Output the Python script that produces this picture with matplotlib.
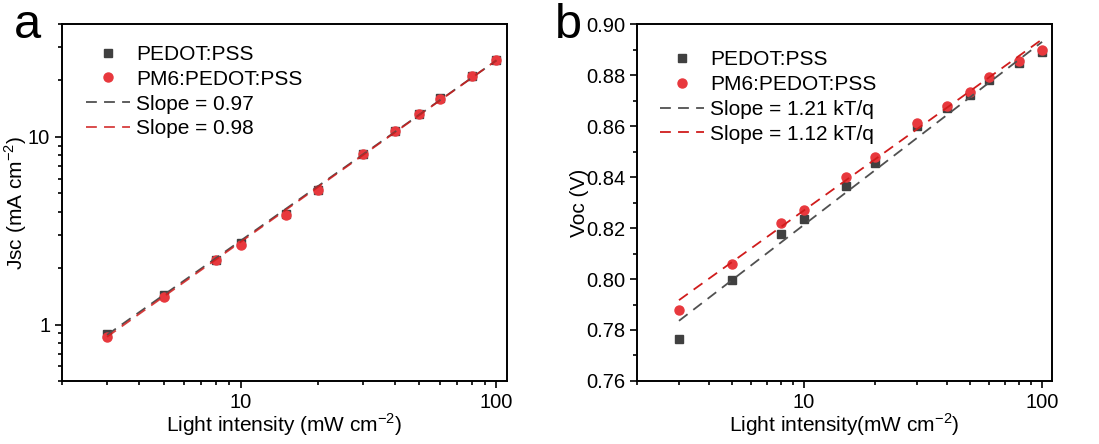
import numpy as np
import matplotlib
matplotlib.use('Agg')
import matplotlib.pyplot as plt
from matplotlib.ticker import LogLocator, NullFormatter, MultipleLocator, FormatStrFormatter

plt.rcParams['font.family'] = ['Liberation Sans', 'DejaVu Sans']
plt.rcParams['mathtext.fontset'] = 'custom'
plt.rcParams['mathtext.rm'] = 'Liberation Sans'

# light intensity (mW cm-2)
intensity = [3, 5, 8, 10, 15, 20, 30, 40, 50, 60, 80, 100]

# panel a: Jsc (mA cm-2)
jsc_pedot = [0.895, 1.43, 2.21, 2.73, 3.87, 5.23, 8.15, 10.8, 13.2, 16.1, 21.2, 25.7]
jsc_pm6 = [0.855, 1.40, 2.20, 2.65, 3.85, 5.22, 8.12, 10.8, 13.2, 16.0, 21.1, 25.6]

# panel b: Voc (V)
voc_pedot = [0.7766, 0.7995, 0.8175, 0.8237, 0.8364, 0.8453, 0.8601, 0.8669, 0.8721, 0.8780, 0.8848, 0.8891]
voc_pm6 = [0.7878, 0.8058, 0.8220, 0.8271, 0.8400, 0.8478, 0.8613, 0.8678, 0.8734, 0.8793, 0.8855, 0.8898]

# fitted lines, end points
fit_x = [3, 100]
jsc_fit_pedot = [0.88, 25.6]
jsc_fit_pm6 = [0.86, 25.6]
voc_fit_pedot = [0.7836, 0.8930]
voc_fit_pm6 = [0.7917, 0.8940]

black = '#404040'
red = '#e8383d'
black_line = '#505050'
red_line = '#d01c1c'

fig = plt.figure(figsize=(10.99, 4.44), dpi=100)
ax1 = fig.add_axes([0.0564, 0.1419, 0.4049, 0.804])
ax2 = fig.add_axes([0.5796, 0.1419, 0.3776, 0.804])

fs = 15


def style(ax):
    for s in ax.spines.values():
        s.set_linewidth(1.4)
    ax.tick_params(which='both', direction='out', top=False, right=False,
                   labelsize=14.5, width=1.2, colors='black')
    ax.tick_params(which='major', length=5)
    ax.tick_params(which='minor', length=3)


def legend(ax, labels, x, y):
    ax.legend(labels, loc='upper left', bbox_to_anchor=(x, y), frameon=False,
              fontsize=fs, labelspacing=0.28, handlelength=2.1,
              handletextpad=0.3, borderaxespad=0)


# panel a
ax1.plot(intensity, jsc_pedot, 's', color=black, ms=6, ls='none')
ax1.plot(intensity, jsc_pm6, 'o', color=red, ms=6.5, ls='none')
ax1.plot(fit_x, jsc_fit_pedot, color=black_line, lw=1.3, dashes=(6, 4))
ax1.plot(fit_x, jsc_fit_pm6, color=red_line, lw=1.3, dashes=(6, 4), alpha=0.85)
ax1.set_xscale('log')
ax1.set_yscale('log')
ax1.set_xlim(2, 110)
ax1.set_ylim(0.5, 40)
ax1.xaxis.set_major_locator(LogLocator(base=10, numticks=10))
ax1.xaxis.set_minor_locator(LogLocator(base=10, subs=np.arange(2, 10), numticks=10))
ax1.xaxis.set_minor_formatter(NullFormatter())
ax1.yaxis.set_minor_formatter(NullFormatter())
ax1.xaxis.set_major_formatter(FormatStrFormatter('%g'))
ax1.yaxis.set_major_formatter(FormatStrFormatter('%g'))
ax1.set_xlabel('Light intensity (mW cm$^{\\mathrm{-2}}$)', fontsize=fs, labelpad=0)
ax1.set_ylabel('Jsc (mA cm$^{\\mathrm{-2}}$)', fontsize=fs, labelpad=-1)
style(ax1)
legend(ax1, ['PEDOT:PSS', 'PM6:PEDOT:PSS', 'Slope = 0.97', 'Slope = 0.98'], 0.035, 0.965)
fig.text(0.013, 0.915, 'a', fontsize=35)

# panel b
ax2.plot(intensity, voc_pedot, 's', color=black, ms=6, ls='none')
ax2.plot(intensity, voc_pm6, 'o', color=red, ms=6.5, ls='none')
ax2.plot(fit_x, voc_fit_pedot, color=black_line, lw=1.3, dashes=(6, 4))
ax2.plot(fit_x, voc_fit_pm6, color=red_line, lw=1.3, dashes=(6, 4))
ax2.set_xscale('log')
ax2.set_xlim(2, 110)
ax2.set_ylim(0.76, 0.90)
ax2.xaxis.set_major_locator(LogLocator(base=10, numticks=10))
ax2.xaxis.set_minor_locator(LogLocator(base=10, subs=np.arange(2, 10), numticks=10))
ax2.xaxis.set_minor_formatter(NullFormatter())
ax2.xaxis.set_major_formatter(FormatStrFormatter('%g'))
ax2.yaxis.set_major_locator(MultipleLocator(0.02))
ax2.yaxis.set_minor_locator(MultipleLocator(0.01))
ax2.yaxis.set_major_formatter(FormatStrFormatter('%.2f'))
ax2.set_xlabel('Light intensity(mW cm$^{\\mathrm{-2}}$)', fontsize=fs, labelpad=0)
ax2.set_ylabel('Voc (V)', fontsize=fs, labelpad=-2)
style(ax2)
legend(ax2, ['PEDOT:PSS', 'PM6:PEDOT:PSS', 'Slope = 1.21 kT/q', 'Slope = 1.12 kT/q'], 0.035, 0.95)
fig.text(0.505, 0.915, 'b', fontsize=35)

fig.savefig('out.png', dpi=100)
